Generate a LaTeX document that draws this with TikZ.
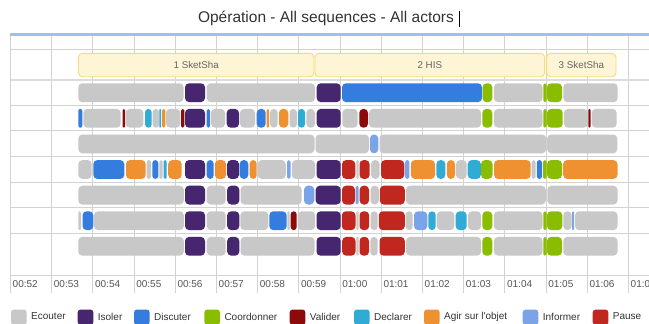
\documentclass[tikz,border=0pt]{standalone}
\usepackage{fontspec}
\setmainfont{Liberation Sans}
\definecolor{ecou}{HTML}{C8C8C8}
\definecolor{isol}{HTML}{45266F}
\definecolor{disc}{HTML}{347DDE}
\definecolor{coor}{HTML}{8ABD00}
\definecolor{vali}{HTML}{8C0A0A}
\definecolor{decl}{HTML}{2FABD6}
\definecolor{agir}{HTML}{EF9130}
\definecolor{info}{HTML}{7AA3E8}
\definecolor{paus}{HTML}{C0281F}
\definecolor{gridc}{HTML}{D2D2D2}
\definecolor{topblue}{HTML}{9DC1EC}
\definecolor{phasefill}{HTML}{FEF4D6}
\definecolor{phasedraw}{HTML}{F8DC72}
\definecolor{txtdark}{HTML}{333333}
\definecolor{txtmid}{HTML}{555555}
\definecolor{txtphase}{HTML}{666666}
\newcommand\drawrow[2]{%
  \foreach \a/\b/\c in {#2} {%
    \pgfmathsetmacro\rr{min(4,(\b-\a)/2)}%
    \fill[\c, rounded corners=\rr pt] (\a,#1-9.4) rectangle (\b,#1+9.4);%
  }}
\begin{document}
\begin{tikzpicture}[x=1pt,y=-1pt,
  gridline/.style={draw=gridc,line width=0.9pt},
  topline/.style={draw=topblue,line width=2.6pt},
  phase/.style={draw=phasedraw,fill=phasefill,line width=0.9pt,rounded corners=4pt,inner sep=0pt,minimum height=23.4pt,text=txtphase,font=\fontsize{9.8}{11}\selectfont},
  axislabel/.style={anchor=west,inner sep=0pt,text=txtmid,font=\fontsize{10}{12}\selectfont},
  legendlabel/.style={anchor=west,inner sep=0pt,text=txtdark,font=\fontsize{10}{12}\selectfont},
  titlestyle/.style={inner sep=0pt,text=txtdark,font=\fontsize{15.5}{18}\selectfont}]
\useasboundingbox (0,0) rectangle (649,324);
\clip (0,0) rectangle (649,324);
\fill[white] (0,0) rectangle (649,324);
% title
\node[titlestyle] (title) at (326,18.5) {Opération - All sequences - All actors};
\draw[black,line width=0.7pt] (459.8,10.5) -- (459.8,27);
% grid
\foreach \k in {0,...,15} \draw[gridline] ({10.5+41.2*\k},33) -- ({10.5+41.2*\k},293);
\foreach \yy in {49.3,105.3,130.9,156.5,182.1,207.7,233.3,275.3} \draw[gridline] (10.5,\yy) -- (649,\yy);
\draw[gridline,line width=1.6pt,draw=gridc!80] (10.5,79.7) -- (649,79.7);
\draw[topline] (10,34.6) -- (649,34.6);
% phases
\node[phase,minimum width=235.5pt] (p1) at (196.25,65) {1 SketSha};
\node[phase,minimum width=229.6pt] (p2) at (429.8,65) {2 HIS};
\node[phase,minimum width=69.3pt] (p3) at (581.35,65) {3 SketSha};
% rows
\drawrow{92.7}{78.3/183.5/ecou, 185/205/isol, 206.7/315/ecou, 316.7/340.7/isol, 342/482/disc, 482.5/492.3/coor, 494/542.5/ecou, 543.3/546.5/coor, 547/562/coor, 563.3/617.7/ecou}
\drawrow{118.3}{78.3/82.3/disc, 83.3/120.7/ecou, 122.7/125/vali, 125.7/143.3/ecou, 145/151.7/decl, 152.7/159/ecou, 159.3/161/decl, 162/165.3/agir, 166/180.3/ecou, 181/184.3/vali, 185/205/isol, 206.7/210/disc, 211/225/ecou, 226.7/239/isol, 240/255/ecou, 256.7/265.7/disc, 266.7/269/agir, 270/277.7/ecou, 279/288.3/agir, 289.5/297/ecou, 298/305/decl, 306.3/315/ecou, 316.7/340.7/isol, 342.3/357.7/ecou, 359.3/368/vali, 369/481/ecou, 482.3/492.3/coor, 494/542.5/ecou, 543.3/546.5/coor, 547/562.7/coor, 564/587.7/ecou, 588.3/590.7/vali, 591.7/616.7/ecou}
\drawrow{143.9}{78.3/314.5/ecou, 315.5/369/ecou, 370/378.3/info, 379.5/546.2/ecou, 547.2/617.3/ecou}
\drawrow{169.5}{78.3/91.7/ecou, 93.3/124.3/disc, 126/145.7/agir, 146.7/151/ecou, 152.3/158.3/disc, 159.3/162.5/ecou, 163.5/166.7/decl, 168.2/181.7/agir, 185/205/isol, 206.7/213.7/disc, 214.8/226/agir, 227.2/239/isol, 239.6/248.3/disc, 249.7/256.7/agir, 257.7/285.8/ecou, 287/290.5/info, 291.8/315/ecou, 316.5/340.7/isol, 342/355.3/paus, 356.3/358.6/ecou, 359.5/369.6/paus, 371/379.6/ecou, 381/404.3/paus, 405.2/409.3/info, 410.8/435/agir, 436.4/445.3/decl, 446.8/455/agir, 456/466.7/ecou, 467.7/480.8/decl, 481/492.5/coor, 494/530.7/agir, 531.7/535.5/ecou, 536.8/542/disc, 543.2/546.5/coor, 547/562/coor, 563.2/617.5/agir}
\drawrow{195.1}{78.3/183.8/ecou, 185/205/isol, 206.7/225.7/ecou, 227.2/239.3/isol, 240.5/301.7/ecou, 304/314.3/info, 315.7/340.7/isol, 342/355/paus, 355.7/358.5/info, 359.6/369/paus, 370.5/378.8/ecou, 379.8/404.8/paus, 406/545.8/ecou, 547.3/617.5/ecou}
\drawrow{220.7}{78.3/81/ecou, 82.5/93.3/disc, 94/183.8/ecou, 185/205/isol, 206.7/225.7/ecou, 227.2/239.3/isol, 240.3/268.3/ecou, 269.3/286.7/disc, 287.3/289.5/ecou, 290.7/296.7/vali, 297.7/315/ecou, 316.5/340.7/isol, 341.8/355.5/paus, 356.3/358.6/ecou, 359.5/369.2/paus, 370.5/377.7/ecou, 378.8/404.8/paus, 405.7/412.5/ecou, 414/427.3/info, 428.3/435.7/decl, 436.7/454.3/ecou, 455.7/466.7/decl, 468/481/ecou, 482.3/492.3/coor, 494/542.5/ecou, 543.3/546.5/coor, 547/562.3/coor, 563.3/571.7/ecou, 572/574/info, 575/617.5/ecou}
\drawrow{246.3}{78.3/183.8/ecou, 185/205/isol, 206.7/225.7/ecou, 227.2/239.3/isol, 240.5/314.5/ecou, 316.5/340.7/isol, 342.2/355.5/paus, 356.3/358.6/ecou, 359.5/369/paus, 370.3/377.7/ecou, 379.5/404.8/paus, 406/481/ecou, 482.3/492.3/coor, 494/542.5/ecou, 543.3/546.5/coor, 547/562/coor, 563.3/617.5/ecou}
% axis labels
\foreach \k/\t in {0/00:52,1/00:53,2/00:54,3/00:55,4/00:56,5/00:57,6/00:58,7/00:59,8/01:00,9/01:01,10/01:02,11/01:03,12/01:04,13/01:05,14/01:06,15/01:07}
  \node[axislabel] (t\k) at ({10.5+41.2*\k+2},284.3) {\t};
% legend
\foreach \tx/\c/\lab [count=\i] in {31/ecou/Ecouter, 97.7/isol/Isoler, 154/disc/Discuter, 224.3/coor/Coordonner, 309.7/vali/Valider, 374/decl/Declarer, 444/agir/Agir sur l\textquotesingle objet, 542.7/info/Informer, 612.7/paus/Pause} {
  \fill[\c, rounded corners=3pt] (\tx-20,309.5) rectangle (\tx-4.3,325);
  \node[legendlabel] (l\i) at (\tx,316.5) {\lab};
}
\end{tikzpicture}
\end{document}
